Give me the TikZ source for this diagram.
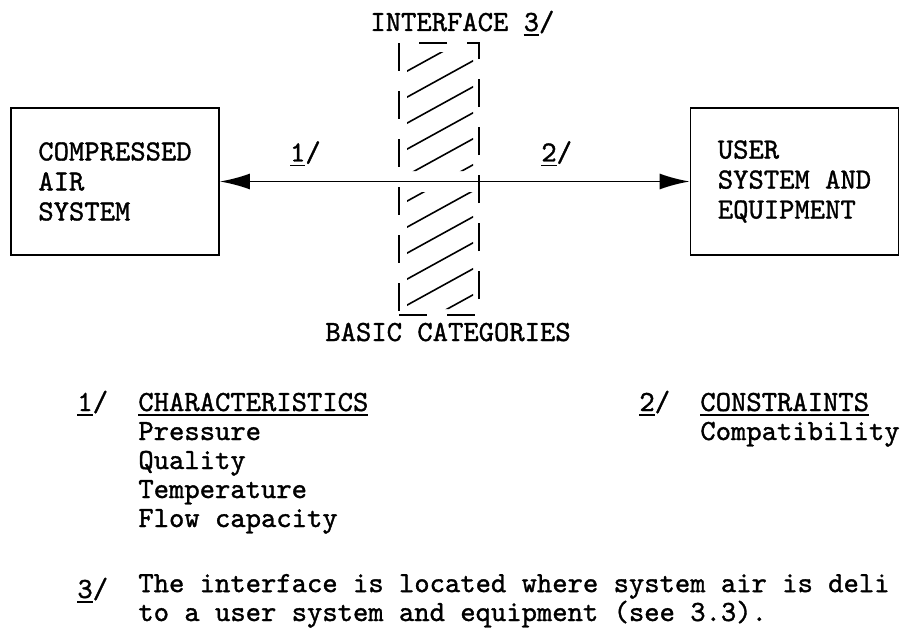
\documentclass[tikz,border=0pt]{standalone}
\usepackage{fontspec}
\newfontfamily\maquina{lmmono10-regular.otf}[FakeBold=1.2]
\usetikzlibrary{arrows.meta, positioning}
\newcommand{\sublinhado}[1]{\setbox0\hbox{#1}\rlap{\rule[-2.5pt]{\wd0}{0.8pt}}\box0}

\begin{document}
\begin{tikzpicture}[
    x=0.5pt, y=-0.5pt,
    texto/.style={
        font=\maquina\fontsize{14.6}{15}\selectfont,
        inner sep=0pt
    },
    bloco/.style={
        draw,
        line width=0.9pt,
        texto,
        align=left,
        minimum width=104pt,
        minimum height=73.5pt
    },
    faixa/.style={
        draw,
        line width=0.8pt,
        dash pattern=on 14pt off 10pt,
        minimum width=40pt,
        minimum height=136pt,
        inner sep=0pt
    },
    hachura/.style={line width=0.8pt},
    flecha/.style={
        {Latex[length=15pt,width=8pt]}-{Latex[length=15pt,width=8pt]},
        line width=0.9pt
    }
]

\useasboundingbox (0,0) rectangle (902,637);

\node[bloco] (ar) at (115,181.5)
{COMPRESSED\\AIR\\SYSTEM};

\node[bloco] (usuario) at (794.5,181.5)
{USER\\SYSTEM AND\\EQUIPMENT};

\node[faixa] (interface) at (439,179) {};

% hachura da interface
\begin{scope}
  \clip (407,52) rectangle (473,171) (407,192) rectangle (473,309);
  \foreach \k in {-1,...,10}
    \draw[hachura] (400,{75+26*\k}) -- (480,{31+26*\k});
\end{scope}

\node[texto, anchor=base west] (titulo) at (370,31) {INTERFACE \sublinhado{3}/};
\node[texto, anchor=base west] (categorias) at (325,341) {BASIC CATEGORIES};

\draw[flecha] (ar) --
  node[texto, pos=.182, anchor=base, yshift=10pt] (r1) {\sublinhado{1}/}
  node[texto, pos=.717, anchor=base, yshift=10pt] (r2) {\sublinhado{2}/}
  (usuario);

% notas (base = ultima linha)
\node[texto, anchor=base west] (n1) at (77,411) {\sublinhado{1}/};
\node[texto, font=\maquina\fontsize{14.6}{14.5}\selectfont, anchor=base west, align=left] (carac) at (138,527)
{\sublinhado{CHARACTERISTICS}\\Pressure\\Quality\\Temperature\\Flow capacity};

\node[texto, anchor=base west] (n2) at (639,411) {\sublinhado{2}/};
\node[texto, font=\maquina\fontsize{14.6}{14.5}\selectfont, anchor=base west, align=left] (restr) at (700,440)
{\sublinhado{CONSTRAINTS}\\Compatibility};

\node[texto, anchor=base west] (n3) at (77,598) {\sublinhado{3}/};
\node[texto, font=\maquina\fontsize{14.6}{11.5}\selectfont, anchor=base west, align=left] (nota) at (138,621)
{The interface is located where system air is deli\\to a user system and equipment (see 3.3).};

\end{tikzpicture}
\end{document}
